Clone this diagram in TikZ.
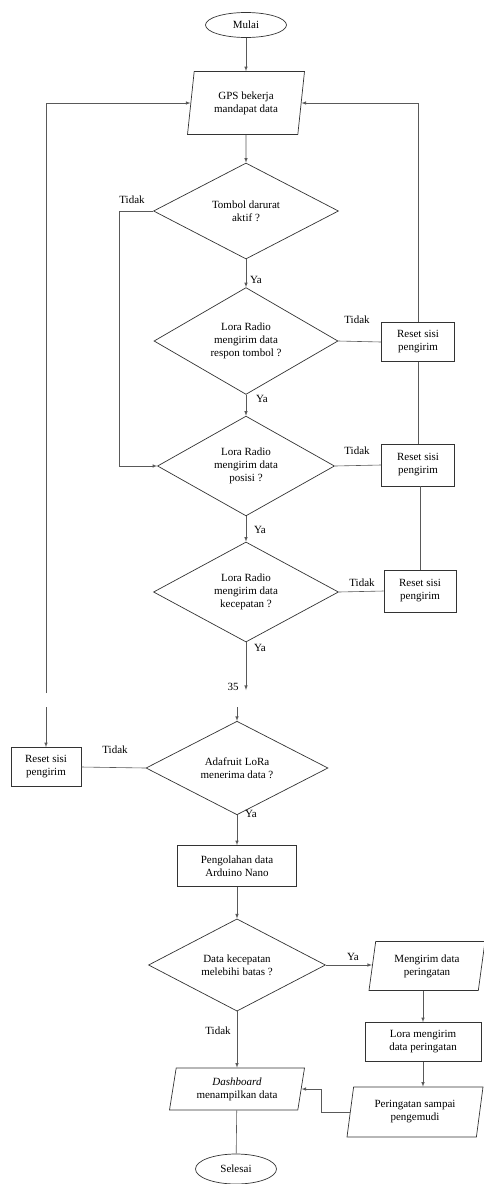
\documentclass[tikz,border=0pt]{standalone}
\usepackage{fontspec}
\setmainfont{Liberation Serif}
\usepackage{tikz}
\usetikzlibrary{calc,positioning,arrows,shapes}

\tikzset{
  term/.style={draw=black!80,ellipse,minimum width=81pt,minimum height=25pt,inner sep=0pt},
  io/.style={draw=black!80,trapezium,trapezium left angle=75,trapezium right angle=105,
    trapezium stretches body,align=center,inner sep=1pt},
  dec/.style={draw=black!80,diamond,align=center,inner sep=0pt},
  box/.style={draw=black!80,rectangle,align=center,inner sep=1pt},
  conn/.style={draw=black!65,line width=0.6pt}
}

\begin{document}
\begin{tikzpicture}[x=1pt,y=-1pt,>=latex,line width=0.7pt,
    every node/.style={font=\fontsize{11}{13}\selectfont}]
  \useasboundingbox (0,0) rectangle (484,1184);

  \node at (246,25) (A) [term]{Mulai};
  \node at (246,103) (B) [io,minimum width=117pt,minimum height=63pt]{GPS bekerja\\mandapat data};
  \node at (246,211) (C) [dec,minimum width=185pt,minimum height=96pt]{Tombol darurat\\aktif ?};
  \node at (246,341) (D) [dec,minimum width=184pt,minimum height=97pt]{Lora Radio\\mengirim data\\respon tombol ?};
  \node at (246,466) (E) [dec,minimum width=177pt,minimum height=98pt]{Lora Radio\\mengirim data\\posisi ?};
  \node at (246,592) (F) [dec,minimum width=185pt,minimum height=100pt]{Lora Radio\\mengirim data\\kecepatan ?};
  \node at (418,342) (R1) [box,minimum width=73pt,minimum height=39pt]{Reset sisi\\pengirim};
  \node at (418,465) (R2) [box,minimum width=73pt,minimum height=42pt]{Reset sisi\\pengirim};
  \node at (420,591) (R3) [box,minimum width=72pt,minimum height=42pt]{Reset sisi\\pengirim};

  % page break
  \coordinate (P1) at (246,690);
  \coordinate (P2) at (46,693);
  \coordinate (Q1) at (46,707);
  \coordinate (Q2) at (237,707);
  \node at (233,687) (pg) {35};

  \node at (46,767) (R4) [box,minimum width=70pt,minimum height=39pt]{Reset sisi\\pengirim};
  \node at (237,768) (G) [dec,minimum width=182pt,minimum height=69pt]{Adafruit LoRa\\menerima data ?};
  \node at (237,866) (H) [box,minimum width=119pt,minimum height=41pt]{Pengolahan data\\Arduino Nano};
  \node at (237,965) (I) [dec,minimum width=177pt,minimum height=88pt]{Data kecepatan\\melebihi batas ?};
  \node at (427,966) (J) [io,minimum width=116pt,minimum height=49pt]{Mengirim data\\peringatan};
  \node at (423,1042) (K) [box,minimum width=116pt,minimum height=39pt]{Lora mengirim\\data peringatan};
  \node at (415,1112) (L) [io,minimum width=136pt,minimum height=50pt]{Peringatan sampai\\pengemudi};
  \node at (237,1089) (M) [io,minimum width=135pt,minimum height=42pt]{\textit{Dashboard}\\menampilkan data};
  \node at (236,1169) (N) [term,minimum height=30pt]{Selesai};

  \node at (132,200) (t1) {Tidak};
  \node at (357,320) (t2) {Tidak};
  \node at (357,451) (t3) {Tidak};
  \node at (362,583) (t4) {Tidak};
  \node at (115,750) (t5) {Tidak};
  \node at (218,1031) (t6) {Tidak};
  \node at (256,280) (y1) {Ya};
  \node at (262,399) (y2) {Ya};
  \node at (260,530) (y3) {Ya};
  \node at (260,648) (y4) {Ya};
  \node at (251,814) (y5) {Ya};
  \node at (353,957) (y6) {Ya};

  \draw[conn,->] (A) -- (B);
  \draw[conn,->] (B) -- (C);
  \draw[conn,->] (C) -- (D);
  \draw[conn,->] (D) -- (E);
  \draw[conn,->] (E) -- (F);
  \draw[conn,->] (C.west) -- ++(-34,0) |- (E.west);
  \draw[conn] (D.east) -- (R1.west);
  \draw[conn] (E.east) -- (R2.west);
  \draw[conn] (F.east) -- (R3.west);
  \draw[conn,->] (R1.north) |- (B.east);
  \draw[conn] (R2.north) -- (R1.south);
  \draw[conn] (R3.north) -- (R3.north |- R2.south);
  \draw[conn,->] (F) -- (P1);
  \draw[conn,->] (P2) |- (B.west);
  \draw[conn,->] (Q1) -- (R4);
  \draw[conn,->] (Q2) -- (G);
  \draw[conn] (G.west) -- (R4.east);
  \draw[conn,->] (G) -- (H);
  \draw[conn,->] (H) -- (I);
  \draw[conn,->] (I.east) -- (I.east -| J.west);
  \draw[conn,->] (K.north |- J.south) -- (K.north);
  \draw[conn,->] (K.south) -- (K.south |- L.north);
  \draw[conn,->] (L.west) -- ++(-29,0) |- (M.east);
  \draw[conn,->] (I) -- (M);
  \draw[conn] (M) -- (N);
\end{tikzpicture}
\end{document}
